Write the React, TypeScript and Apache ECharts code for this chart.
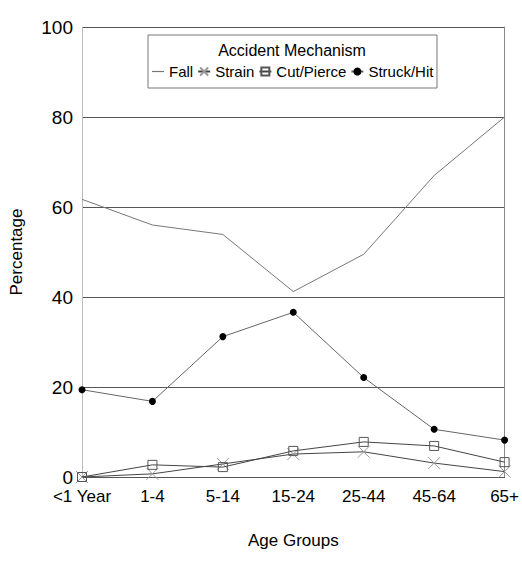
import React, { useEffect, useRef } from "react";
import * as echarts from "echarts";

const categories = ["<1 Year", "1-4", "5-14", "15-24", "25-44", "45-64", "65+"];
const fall = [61.7, 56, 53.9, 41.2, 49.5, 67, 80];
const strain = [0, 0.7, 2.9, 5.1, 5.6, 3.1, 1.2];
const cutPierce = [0, 2.7, 2.2, 5.8, 7.8, 6.9, 3.3];
const struckHit = [19.4, 16.8, 31.2, 36.6, 22.1, 10.6, 8.2];
const yTicks = [0, 20, 40, 60, 80, 100];

const FONT = "'Liberation Sans', Arial, sans-serif";

export default function App() {
  const ref = useRef<HTMLDivElement>(null);
  useEffect(() => {
    if (!ref.current) return;
    const chart = echarts.init(ref.current, null, { renderer: "svg" });
    chart.setOption({
      animation: false,
      backgroundColor: "#fff",
      grid: {
        left: 75,
        right: 11,
        top: 27,
        bottom: 89,
      },
      xAxis: {
        type: "category",
        data: categories,
        boundaryGap: false,
        axisLine: { lineStyle: { color: "#555", width: 1 } },
        axisTick: { show: false },
        axisLabel: {
          color: "#000",
          fontFamily: FONT,
          fontSize: 17,
          margin: 11,
          interval: 0,
        },
        name: "Age Groups",
        nameLocation: "middle",
        nameGap: 55,
        nameTextStyle: { color: "#000", fontFamily: FONT, fontSize: 17 },
      },
      yAxis: [
        {
          type: "value",
          min: yTicks[0],
          max: yTicks[yTicks.length - 1],
          interval: 20,
          axisLine: { show: true, lineStyle: { color: "#bbb", width: 1 } },
          axisTick: { show: false },
          splitLine: { lineStyle: { color: "#555", width: 1 } },
          axisLabel: {
            color: "#000",
            fontFamily: FONT,
            fontSize: 19,
            margin: 9,
          },
          name: "Percentage",
          nameLocation: "middle",
          nameGap: 57,
          nameTextStyle: {
            color: "#000",
            fontFamily: FONT,
            fontSize: 17,
          },
        },
        {
          type: "value",
          position: "right",
          min: yTicks[0],
          max: yTicks[yTicks.length - 1],
          interval: 20,
          axisLine: { show: true, lineStyle: { color: "#888", width: 1 } },
          axisTick: { show: false },
          axisLabel: { show: false },
          splitLine: { show: false },
        },
      ],
      legend: {
        left: 152,
        top: 64,
        itemGap: 4,
        itemWidth: 12,
        itemHeight: 10,
        padding: 0,
        textStyle: { color: "#000", fontFamily: FONT, fontSize: 15 },
        data: [
          { name: "Fall", icon: "path://M0,4.5L10,4.5L10,5.5L0,5.5Z" },
          "Strain",
          "Cut/Pierce",
          "Struck/Hit",
        ],
      },
      graphic: [
        {
          type: "rect",
          z: 1,
          shape: { x: 148, y: 35, width: 289, height: 53 },
          style: { fill: "#fff", stroke: "#777", lineWidth: 1 },
        },
        {
          type: "text",
          z: 5,
          x: 292,
          y: 50,
          style: {
            text: "Accident Mechanism",
            fill: "#000",
            font: "16px " + FONT,
            textAlign: "center",
            textVerticalAlign: "middle",
          },
        },
      ],
      series: [
        {
          name: "Fall",
          type: "line",
          data: fall,
          symbol: "none",
          lineStyle: { color: "#777", width: 1 },
          itemStyle: { color: "#777" },
          z: 2,
        },
        {
          name: "Strain",
          type: "line",
          data: strain,
          symbol: "path://M0,0L10,10M0,10L10,0",
          symbolSize: 12,
          lineStyle: { color: "#444", width: 1 },
          itemStyle: { color: "transparent", borderColor: "#999", borderWidth: 1 },
          z: 3,
        },
        {
          name: "Cut/Pierce",
          type: "line",
          data: cutPierce,
          symbol: "rect",
          symbolSize: 9,
          lineStyle: { color: "#444", width: 1 },
          itemStyle: { color: "transparent", borderColor: "#555", borderWidth: 1 },
          z: 4,
        },
        {
          name: "Struck/Hit",
          type: "line",
          data: struckHit,
          symbol: "circle",
          symbolSize: 7,
          lineStyle: { color: "#666", width: 1 },
          itemStyle: { color: "#000" },
          z: 5,
        },
      ],
    });
    return () => chart.dispose();
  }, []);
  return (
    <div
      ref={ref}
      style={{ position: "fixed", left: 0, top: 0, width: 522, height: 566, background: "#fff" }}
    />
  );
}
